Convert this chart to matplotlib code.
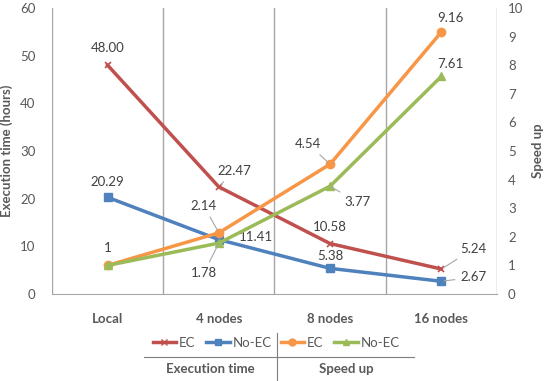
import matplotlib.pyplot as plt
from matplotlib.lines import Line2D

plt.rcParams['font.family'] = ['Lato', 'DejaVu Sans']

# Data
categories = ['Local', '4 nodes', '8 nodes', '16 nodes']
time_ec = [48.00, 22.47, 10.58, 5.24]
time_noec = [20.29, 11.41, 5.38, 2.67]
speed_ec = [1, 2.14, 4.54, 9.16]
speed_noec = [1, 1.78, 3.77, 7.61]

# label text per point (None = no label)
time_ec_lbl = ['48.00', '22.47', '10.58', '5.24']
time_noec_lbl = ['20.29', '11.41', '5.38', '2.67']
speed_ec_lbl = ['1', '2.14', '4.54', '9.16']
speed_noec_lbl = [None, '1.78', '3.77', '7.61']

RED = '#C0504D'
BLUE = '#4F81BD'
ORANGE = '#F79646'
GREEN = '#9BBB59'
GREY = '#595959'

fig = plt.figure(figsize=(5.5, 3.81), dpi=100)
ax = fig.add_axes([0.0945, 0.2283, 0.8091, 0.7507])
ax2 = ax.twinx()

x = list(range(len(categories)))

ax.plot(x, time_ec, color=RED, lw=2.5, marker='x', ms=5, mew=1.2, zorder=3)
ax.plot(x, time_noec, color=BLUE, lw=2.5, marker='s', ms=5.5, zorder=3)
ax2.plot(x, speed_ec, color=ORANGE, lw=2.5, marker='o', ms=6, zorder=3)
ax2.plot(x, speed_noec, color=GREEN, lw=2.5, marker='^', ms=6, zorder=3)

ax.set_xlim(-0.5, 3.5)
ax.set_ylim(0, 60)
ax2.set_ylim(0, 10)
ax.set_yticks(range(0, 61, 10))
ax2.set_yticks(range(0, 11, 1))
ax.set_xticks(x)
ax.set_xticklabels(categories, fontweight='bold', color=GREY, fontsize=9.5)

for b in [-0.5, 0.5, 1.5, 2.5, 3.5]:
    ax.axvline(b, color='#A6A6A6', lw=1, zorder=1)

for a in (ax, ax2):
    for s in a.spines.values():
        s.set_visible(False)
    a.tick_params(length=0, colors=GREY, labelsize=9.5)
ax.spines['bottom'].set_visible(True)
ax.spines['bottom'].set_color('#A6A6A6')
ax.tick_params(axis='x', pad=14)
ax.tick_params(axis='y', pad=12)
ax2.tick_params(axis='y', pad=8)

ax.set_ylabel('Execution time (hours)', fontweight='bold', color=GREY, fontsize=9.5, labelpad=5)
ax2.set_ylabel('Speed up', fontweight='bold', color=GREY, fontsize=9.5, labelpad=6)

# data labels: offsets in pixels, leader flag
def label(a, xs, ys, texts, offsets, leaders):
    for xi, yi, t, (dx, dy), ld in zip(xs, ys, texts, offsets, leaders):
        if t is None:
            continue
        props = dict(arrowstyle='-', color='#A6A6A6', lw=0.8, shrinkA=2, shrinkB=2) if ld else None
        a.annotate(t, (xi, yi), xytext=(dx, dy), textcoords='offset pixels',
                   ha='center', va='center', fontsize=9.5, color='#404040',
                   arrowprops=props, zorder=5)

label(ax, x, time_ec, time_ec_lbl,
      [(0, 17), (15, 16), (0, 17), (32, 20)], [False, True, False, True])
label(ax, x, time_noec, time_noec_lbl,
      [(0, 15), (37, 3), (0, 12), (32, 4)], [False, False, False, True])
label(ax2, x, speed_ec, speed_ec_lbl,
      [(0, 17), (-15, 27), (-22, 20), (9, 14)], [False, True, True, False])
label(ax2, x, speed_noec, speed_noec_lbl,
      [(0, 0), (-15, -30), (27, -16), (9, 12)], [False, True, True, False])

# grouped legend
h1 = [Line2D([], [], color=RED, lw=2.5, marker='x', ms=4),
      Line2D([], [], color=BLUE, lw=2.5, marker='s', ms=5)]
h2 = [Line2D([], [], color=ORANGE, lw=2.5, marker='o', ms=5),
      Line2D([], [], color=GREEN, lw=2.5, marker='^', ms=5)]
leg_y = 1 - 343 / 381
leg_kw = dict(ncol=2, loc='center', frameon=False, handlelength=1.8, handletextpad=0.2,
              columnspacing=0.8, borderpad=0, fontsize=9.5, labelcolor=GREY)
fig.legend(h1, ['EC', 'No-EC'], bbox_to_anchor=(212 / 550, leg_y), **leg_kw)
fig.legend(h2, ['EC', 'No-EC'], bbox_to_anchor=(340 / 550, leg_y), **leg_kw)

fig.add_artist(Line2D([144 / 550, 414 / 550], [1 - 357 / 381] * 2, color='#7F7F7F', lw=0.8))
fig.add_artist(Line2D([277 / 550] * 2, [1 - 333 / 381, 0], color='#7F7F7F', lw=0.8))
fig.text(210 / 550, 1 - 369 / 381, 'Execution time', ha='center', va='center',
         fontweight='bold', color=GREY, fontsize=9.5)
fig.text(346 / 550, 1 - 369 / 381, 'Speed up', ha='center', va='center',
         fontweight='bold', color=GREY, fontsize=9.5)

fig.savefig('out.png', dpi=100)
